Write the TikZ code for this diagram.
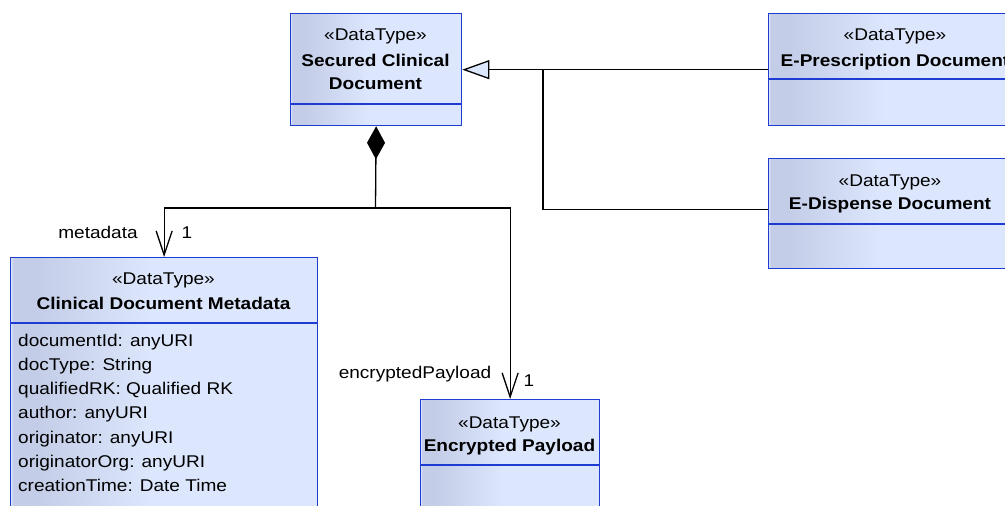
\documentclass[tikz,border=0pt]{standalone}
\usepackage{fontspec}
\setmainfont{Liberation Sans}[FakeStretch=1.12]
\usetikzlibrary{arrows.meta}
\definecolor{boxL}{HTML}{C3CDE7}
\definecolor{boxR}{HTML}{DCE6FC}
\definecolor{boxB}{HTML}{1E3CD2}
\pgfdeclarehorizontalshading{classshade}{100bp}{color(0bp)=(boxR); color(25bp)=(boxR); color(25.4bp)=(boxL); color(29bp)=(boxL); color(48bp)=(boxR); color(100bp)=(boxR)}
\tikzset{
  classbox/.style={draw=boxB, line width=1.3pt, shading=classshade, rectangle, inner sep=0pt, anchor=north west},
  divider/.style={draw=boxB, line width=1.3pt},
  txt/.style={font=\fontsize{17}{20}\selectfont, inner sep=0pt, anchor=base},
  btxt/.style={txt, font=\fontsize{17}{20}\selectfont\bfseries},
  conn/.style={draw=black, line width=1.3pt},
  gen/.style={conn, -{Triangle[open, length=27pt, width=19pt, fill=boxR, line width=1.3pt]}},
  nav/.style={conn, -{Straight Barb[length=24pt, width=16pt, line width=1.3pt]}},
  comp/.style={conn, {Diamond[length=33pt, width=18pt]}-}
}
\begin{document}
\begin{tikzpicture}[x=1pt, y=-1pt]
\useasboundingbox (0,0) rectangle (1005,506);
\clip (0,0) rectangle (1005,506);

% Secured Clinical Document
\node[classbox, minimum width=171pt, minimum height=112pt] (scd) at (290,13) {};
\draw[divider] (scd.west |- 0,104) -- (scd.east |- 0,104);
\node[txt] (scdS) at (375.5,41) {«DataType»};
\node[btxt] (scdN1) at (375.5,66) {Secured Clinical};
\node[btxt] (scdN2) at (375.5,89) {Document};

% E-Prescription Document
\node[classbox, minimum width=254pt, minimum height=112pt] (epd) at (768,13) {};
\draw[divider] (epd.west |- 0,79) -- (epd.east |- 0,79);
\node[txt] (epdS) at (895,41) {«DataType»};
\node[btxt] (epdN) at (895,66) {E-Prescription Document};

% E-Dispense Document
\node[classbox, minimum width=244pt, minimum height=110pt] (edd) at (768,158) {};
\draw[divider] (edd.west |- 0,224) -- (edd.east |- 0,224);
\node[txt] (eddS) at (890,186) {«DataType»};
\node[btxt] (eddN) at (890,209) {E-Dispense Document};

% Clinical Document Metadata
\node[classbox, minimum width=307pt, minimum height=270pt] (cdm) at (10,257) {};
\draw[divider] (cdm.west |- 0,323) -- (cdm.east |- 0,323);
\node[txt] (cdmS) at (163.5,284) {«DataType»};
\node[btxt] (cdmN) at (163.5,309) {Clinical Document Metadata};
\foreach \t [count=\i] in {documentId: anyURI, docType: String, qualifiedRK: Qualified RK, author: anyURI, originator: anyURI, originatorOrg: anyURI, creationTime: Date Time}
  \node[txt, anchor=base west] (attr\i) at (18,{346+(\i-1)*24.3}) {\t};

% Encrypted Payload
\node[classbox, minimum width=179pt, minimum height=130pt] (ep) at (420,399) {};
\draw[divider] (ep.west |- 0,465) -- (ep.east |- 0,465);
\node[txt] (epS) at (509.5,428) {«DataType»};
\node[btxt] (epN) at (509.5,451) {Encrypted Payload};

% Generalizations
\coordinate (j1) at (543,69);
\draw[gen] (epd.west) -- (scd.east);
\draw[conn] ([yshift=4pt]edd.west) -| (j1);

% Composition
\coordinate (j2) at (375.5,208);
\draw[comp] (scd.south) -- (j2);
\draw[nav] (j2) -| (cdm.north);
\draw[nav] (j2) -| (ep.north);

% Role labels
\node[txt] (lmeta) at (98,238) {metadata};
\node[txt] (lmeta1) at (187,238) {1};
\node[txt] (lenc) at (415,378) {encryptedPayload};
\node[txt] (lenc1) at (529,386) {1};
\end{tikzpicture}
\end{document}
